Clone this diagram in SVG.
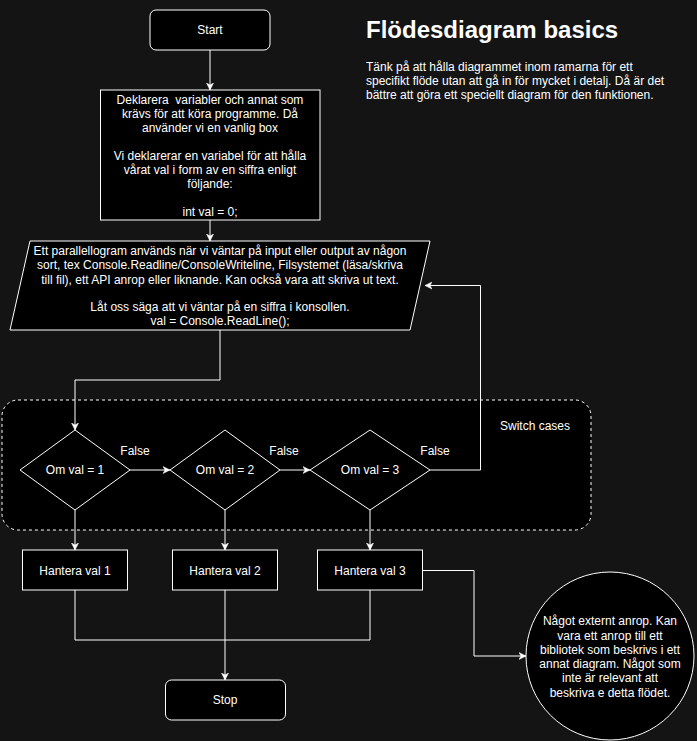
<svg xmlns="http://www.w3.org/2000/svg" width="697" height="741" viewBox="0 0 697 741">
<style>
text{font-family:"Liberation Sans",Arial,sans-serif;font-size:12px;fill:#ffffff}
.c{text-anchor:middle}
.n{fill:#000000;stroke:#ffffff;stroke-width:1}
.e{fill:none;stroke:#ffffff;stroke-width:1}
</style>
<defs>
<marker id="ah" markerWidth="8" markerHeight="8" refX="7" refY="4" orient="auto" markerUnits="userSpaceOnUse">
<path d="M0,0.5 L7,4 L0,7.5 L2,4 Z" fill="#ffffff" stroke="#ffffff" stroke-width="0.5"/>
</marker>
</defs>
<rect x="0" y="0" width="697" height="741" fill="#141414"/>
<g id="title">
<text x="366" y="38" style="font-size:24px;font-weight:bold">Flödesdiagram basics</text>
<text x="366" y="71">Tänk på att hålla diagrammet inom ramarna för ett</text>
<text x="366" y="85">specifikt flöde utan att gå in för mycket i detalj. Då är det</text>
<text x="366" y="99">bättre att göra ett speciellt diagram för den funktionen.</text>
</g>
<g id="switch-container">
<rect x="2" y="400" width="589" height="130" rx="16" fill="#000000" stroke="#ffffff" stroke-dasharray="3 3"/>
<text x="535" y="430" class="c">Switch cases</text>
</g>
<g id="start">
<rect class="n" x="150" y="10" width="120" height="40" rx="6"/>
<text x="210" y="34" class="c">Start</text>
</g>
<g id="declare">
<rect class="n" x="100.5" y="90" width="219.5" height="130"/>
<text class="c"><tspan x="210" y="104" style="white-space:pre" xml:space="preserve">Deklarera  variabler och annat som</tspan><tspan x="210" y="118">krävs för att köra programme. Då</tspan><tspan x="210" y="132">använder vi en vanlig box</tspan><tspan x="210" y="160">Vi deklarerar en variabel för att hålla</tspan><tspan x="210" y="174">vårat val i form av en siffra enligt</tspan><tspan x="210" y="188">följande:</tspan><tspan x="210" y="216">int val = 0;</tspan></text>
</g>
<g id="input">
<polygon class="n" points="30,241 430,241 410,330 10,330"/>
<text class="c"><tspan x="220" y="255">Ett parallellogram används när vi väntar på input eller output av någon</tspan><tspan x="220" y="269">sort, tex Console.Readline/ConsoleWriteline, Filsystemet (läsa/skriva</tspan><tspan x="220" y="284">till fil), ett API anrop eller liknande. Kan också vara att skriva ut text.</tspan><tspan x="220" y="311">Låt oss säga att vi väntar på en siffra i konsollen.</tspan><tspan x="220" y="325">val = Console.ReadLine();</tspan></text>
</g>
<g id="case1">
<polygon class="n" points="75,430 130,470 75,510 20,470"/>
<text x="75" y="474" class="c">Om val = 1</text>
</g>
<g id="case2">
<polygon class="n" points="225,430 280,470 225,510 170,470"/>
<text x="225" y="474" class="c">Om val = 2</text>
</g>
<g id="case3">
<polygon class="n" points="370,430 430,470 370,510 310,470"/>
<text x="370" y="474" class="c">Om val = 3</text>
</g>
<g id="handle1">
<rect class="n" x="22.5" y="550" width="105" height="40"/>
<text x="75" y="575" class="c">Hantera val 1</text>
</g>
<g id="handle2">
<rect class="n" x="172.5" y="550" width="105" height="40"/>
<text x="225" y="575" class="c">Hantera val 2</text>
</g>
<g id="handle3">
<rect class="n" x="317.5" y="550" width="105" height="40"/>
<text x="370" y="575" class="c">Hantera val 3</text>
</g>
<g id="stop">
<rect class="n" x="165.5" y="680" width="120" height="40" rx="6"/>
<text x="225" y="704" class="c">Stop</text>
</g>
<g id="external">
<circle class="n" cx="610" cy="656" r="84"/>
<text class="c"><tspan x="610" y="625">Något externt anrop. Kan</tspan><tspan x="610" y="639.5">vara ett anrop till ett</tspan><tspan x="610" y="654">bibliotek som beskrivs i ett</tspan><tspan x="610" y="668">annat diagram. Något som</tspan><tspan x="610" y="682">inte är relevant att</tspan><tspan x="610" y="696.5">beskriva e detta flödet.</tspan></text>
</g>
<g id="connectors">
<path class="e" d="M210,50 V90" marker-end="url(#ah)"/>
<path class="e" d="M210,220 V241" marker-end="url(#ah)"/>
<path class="e" d="M220,330 V380 H75 V430" marker-end="url(#ah)"/>
<path class="e" d="M130,470 H170" marker-end="url(#ah)"/>
<path class="e" d="M280,470 H310" marker-end="url(#ah)"/>
<path class="e" d="M430,470 H480.5 V285.5 H425" marker-end="url(#ah)"/>
<path class="e" d="M75,510 V550" marker-end="url(#ah)"/>
<path class="e" d="M225,510 V550" marker-end="url(#ah)"/>
<path class="e" d="M370,510 V550" marker-end="url(#ah)"/>
<path class="e" d="M75,590 V640 H370 V590"/>
<path class="e" d="M225,590 V680" marker-end="url(#ah)"/>
<path class="e" d="M422.5,570.5 H474 V656 H526" marker-end="url(#ah)"/>
</g>
<g id="labels">
<text x="135" y="455" class="c">False</text>
<text x="284" y="455" class="c">False</text>
<text x="435" y="455" class="c">False</text>
</g>
</svg>
